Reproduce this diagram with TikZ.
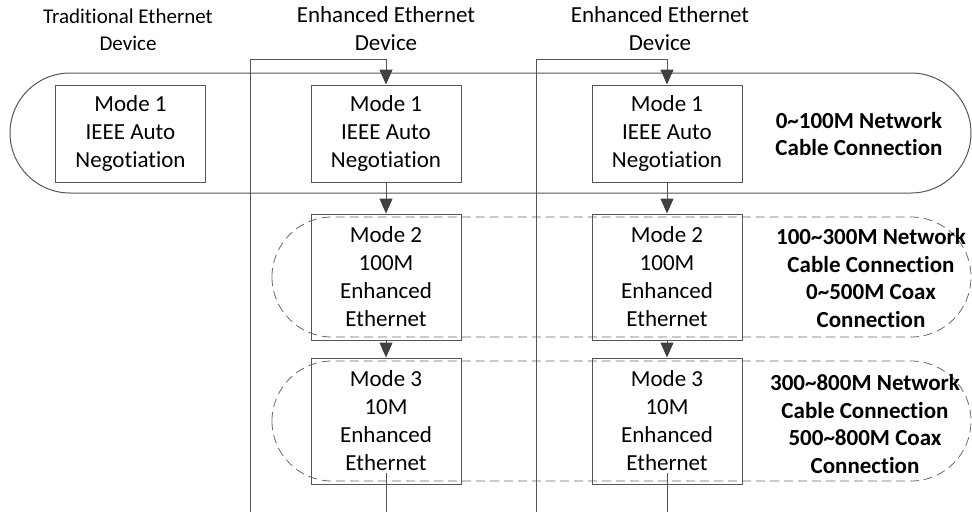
\documentclass[tikz,border=0pt]{standalone}
\usepackage{fontspec}
\setmainfont{Carlito}[Ligatures=NoCommon]
\usetikzlibrary{arrows.meta}
\definecolor{linegray}{RGB}{85,85,85}
\definecolor{headgray}{RGB}{64,64,64}
\definecolor{dashgray}{RGB}{105,105,105}
\tikzset{
  modebox/.style={draw=linegray, line width=1pt, minimum width=150pt, align=center, inner sep=0pt, font=\fontsize{23}{28}\selectfont},
  rangetext/.style={align=center, inner sep=0pt, font=\fontsize{23}{27.5}\selectfont\bfseries},
  devtext/.style={align=center, inner sep=0pt},
  link/.style={draw=linegray, line width=1pt},
  flow/.style={link, -{Triangle[width=13pt,length=15pt,color=headgray]}},
  region/.style={draw=linegray, line width=1pt, rounded corners=60pt},
  dashregion/.style={draw=dashgray, line width=0.8pt, dash pattern=on 9pt off 5pt, rounded corners=60pt}
}
\begin{document}
\begin{tikzpicture}[x=1pt,y=-1pt]
\useasboundingbox (0,0) rectangle (972,512);
% ranges
\draw[region] (10,73) rectangle (971,193);
\draw[dashregion] (272,217) rectangle (971,337);
\draw[dashregion] (272,361) rectangle (971,481);

\node[devtext, font=\fontsize{21}{27}\selectfont] (dev0) at (128,29.5){Traditional Ethernet\\Device};
\node[devtext, font=\fontsize{23}{28}\selectfont] (dev1) at (386,29){Enhanced Ethernet\\Device};
\node[devtext, font=\fontsize{23}{28}\selectfont] (dev2) at (660,29){Enhanced Ethernet\\Device};

\node[modebox, minimum height=97pt] (m1a) at (130.5,133.5){Mode 1\\IEEE Auto\\Negotiation};
\node[modebox, minimum height=97pt] (m1b) at (386,133.5){Mode 1\\IEEE Auto\\Negotiation};
\node[modebox, minimum height=126pt] (m2b) at (386,277){Mode 2\\100M\\Enhanced\\Ethernet};
\node[modebox, minimum height=126pt] (m3b) at (386,421){Mode 3\\10M\\Enhanced\\Ethernet};
\draw[flow](m1b) -- (m2b);
\draw[flow](m2b) -- (m3b);

\node[modebox, minimum height=97pt] (m1c) at (667,133.5){Mode 1\\IEEE Auto\\Negotiation};
\node[modebox, minimum height=126pt] (m2c) at (667,277){Mode 2\\100M\\Enhanced\\Ethernet};
\node[modebox, minimum height=126pt] (m3c) at (667,421){Mode 3\\10M\\Enhanced\\Ethernet};
\draw[flow](m1c) -- (m2c);
\draw[flow](m2c) -- (m3c);

\node[rangetext] (r1) at (859,134){0\textasciitilde100M Network\\Cable Connection};
\node[rangetext] (r2) at (871,278){100\textasciitilde300M Network\\Cable Connection\\0\textasciitilde500M Coax\\Connection};
\node[rangetext] (r3) at (865,424){300\textasciitilde800M Network\\Cable Connection\\500\textasciitilde800M Coax\\Connection};

% fallback loops
\coordinate (fbtop) at (0,59);
\coordinate (fb1) at (250,512);
\coordinate (fb2) at (536,512);
\draw[flow](fb1) -- (fb1 |- fbtop) -| (m1b.north);
\draw[link]([yshift=12pt]m3b.south) -- (m3b.south |- fb1);
\draw[flow](fb2) -- (fb2 |- fbtop) -| (m1c.north);
\draw[link]([yshift=12pt]m3c.south) -- (m3c.south |- fb2);

\end{tikzpicture}
\end{document}
